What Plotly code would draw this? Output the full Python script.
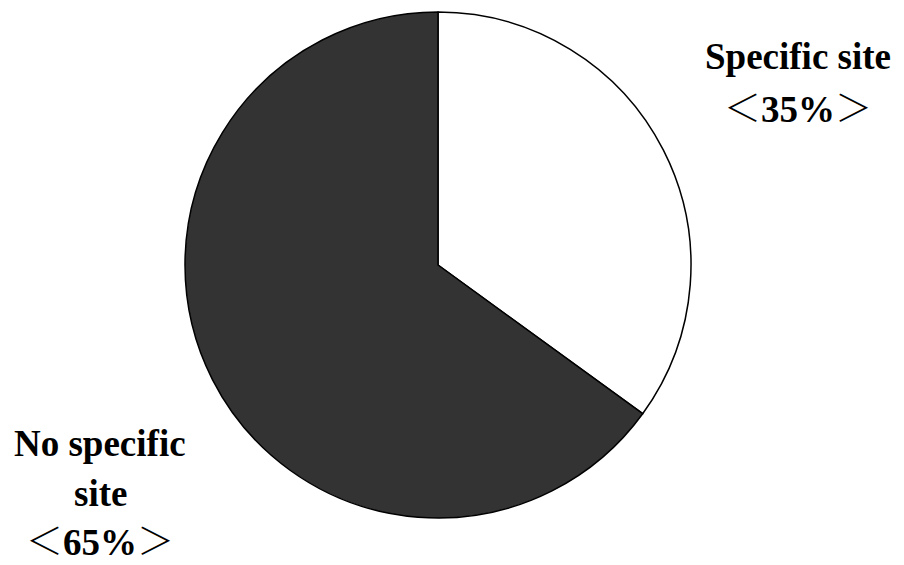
import plotly.graph_objects as go

# Share of cases by site category
categories = ["Specific site", "No specific site"]
shares = [35, 65]
slice_colors = ["#ffffff", "#333333"]

W, H = 904, 565
cx, cy, r = 438, 265, 253

fig = go.Figure(go.Pie(
    labels=categories,
    values=shares,
    sort=False,
    direction="clockwise",
    rotation=0,
    textinfo="none",
    hoverinfo="label+percent",
    marker=dict(colors=slice_colors, line=dict(color="#000000", width=1.5)),
    domain=dict(x=[(cx - r) / W, (cx + r) / W], y=[(H - cy - r) / H, (H - cy + r) / H]),
    showlegend=False,
))

font = dict(family="Liberation Serif, Times New Roman, serif", size=37, color="#000000")

# full-width angle brackets drawn in a CJK face at normal weight
BR = '<span style="font-family:Noto Sans CJK JP;font-weight:300">{}</span>'


def pct_line(v):
    return BR.format("＜") + f"<b>{v}%</b>" + BR.format("＞")


label_lines = [
    ("<b>Specific site</b>", 798, 57),
    (pct_line(shares[0]), 798, 106),
    ("<b>No specific</b>", 100, 443),
    ("<b>site</b>", 100, 493),
    (pct_line(shares[1]), 100, 539),
]
annotations = [
    dict(text=t, x=x / W, y=1 - y / H, xref="paper", yref="paper",
         xanchor="center", yanchor="middle", showarrow=False, font=font)
    for t, x, y in label_lines
]

fig.update_layout(
    width=W, height=H,
    margin=dict(l=0, r=0, t=0, b=0),
    paper_bgcolor="#ffffff",
    plot_bgcolor="#ffffff",
    annotations=annotations,
)

fig.write_html("out.html")
